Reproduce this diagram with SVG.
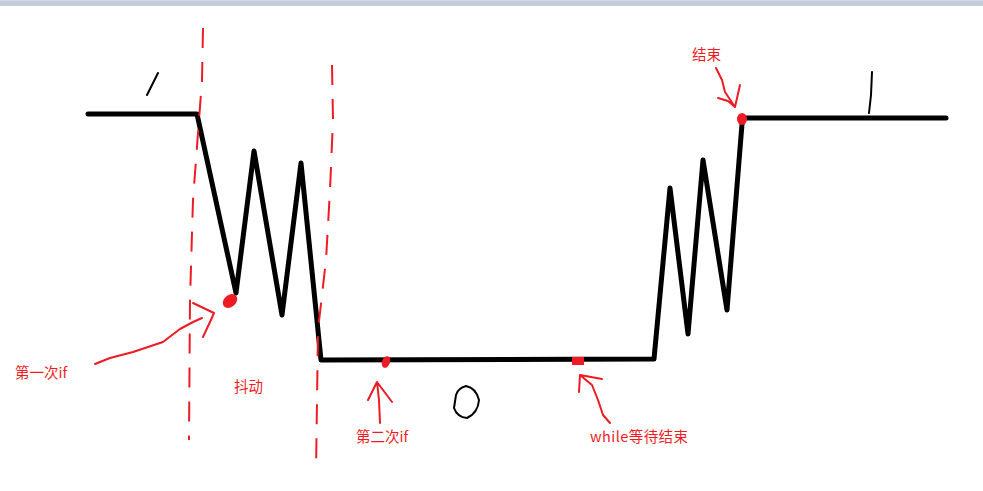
<svg xmlns="http://www.w3.org/2000/svg" width="983" height="491" viewBox="0 0 983 491">
<style>
.wave{fill:none;stroke:#000;stroke-width:5;stroke-linejoin:round;stroke-linecap:round}
.pen{fill:none;stroke:#000;stroke-width:2;stroke-linecap:round}
.dash{fill:none;stroke:#ed1c24;stroke-width:2;stroke-dasharray:20 14}
.arr{fill:none;stroke:#ed1c24;stroke-width:2;stroke-linejoin:round;stroke-linecap:round}
.dot{fill:#ed1c24}
.lbl{font-family:"Noto Sans CJK SC","Microsoft YaHei",sans-serif;font-size:14.5px;fill:#ed1c24}
</style>
<rect x="0" y="0" width="983" height="491" fill="#fff"/>
<rect x="0" y="0" width="983" height="6" fill="#c6ccdd"/>
<rect x="0" y="0" width="983" height="1" fill="#d6d8de"/>
<g id="waveform">
<polyline class="wave" points="88,114 197,114 236,293 254,151 282,315 301,163 321,360 654,359 670,188 688,334 703,160 727,310 742,124 742,118 946,118"/>
</g>
<g id="marks">
<line class="pen" x1="147" y1="95" x2="158" y2="73"/>
<path class="pen" d="M869,113 L871,95 L872,72"/>
<path class="pen" d="M456,395 Q458,388 466,386 Q476,388 479,400 Q478,413 467,418 Q457,417 454,408 Z"/>
</g>
<g id="dashed-lines">
<path class="dash" d="M203,28 L202,80 L199,120 L193,200 L190,300 L189,440"/>
<path class="dash" d="M332,65 L333,120 L330,190 L326,260 L318,330 L316,472"/>
</g>
<g id="dots">
<ellipse class="dot" cx="230" cy="301" rx="8" ry="6" transform="rotate(-40 230 301)"/>
<ellipse class="dot" cx="386" cy="362" rx="4" ry="6" transform="rotate(20 386 362)"/>
<rect class="dot" x="572" y="357" width="12" height="8"/>
<ellipse class="dot" cx="742" cy="119" rx="5" ry="6"/>
</g>
<g id="connectors">
<path class="arr" d="M95,364 L110,358 L133,352 L163,342 L180,329 L193,322 L202,318"/>
<path class="arr" d="M193,303 L214,313 L210,322 L203,337"/>
<path class="arr" d="M380,423 L379,400 L377,382 M368,400 L377,382 L392,402"/>
<path class="arr" d="M610,423 L603,415 L598,400 L592,385 L580,375 M579,392 L580,375 L602,379"/>
<path class="arr" d="M716,68 L722,80 L725,92 L735,107 M718,98 L728,101 L735,107 L740,85"/>
</g>
<g id="labels">
<text class="lbl" x="15" y="378">第一次if</text>
<text class="lbl" x="234" y="392">抖动</text>
<text class="lbl" x="356" y="442">第二次if</text>
<text class="lbl" x="590" y="442" textLength="98">while等待结束</text>
<text class="lbl" x="692" y="60">结束</text>
</g>
</svg>
